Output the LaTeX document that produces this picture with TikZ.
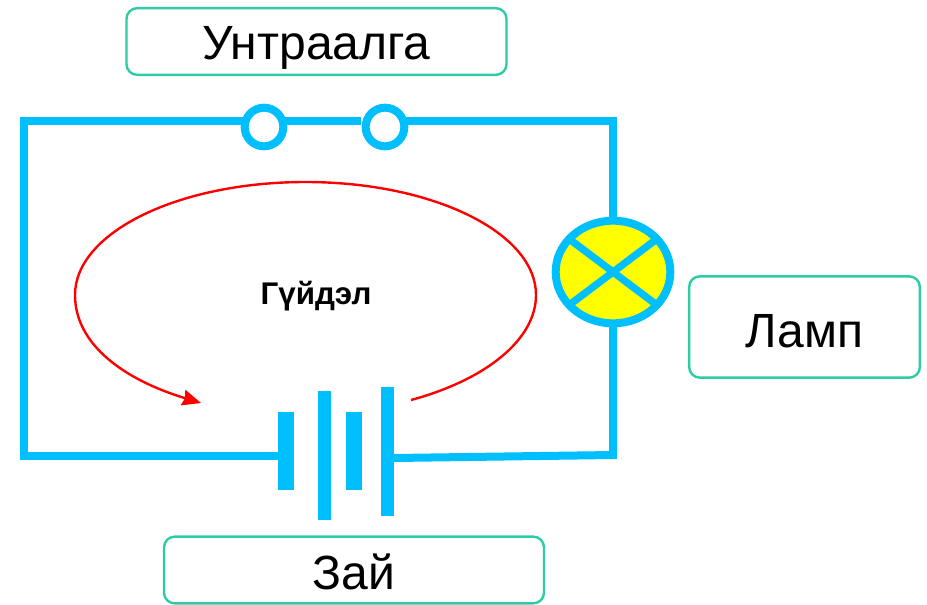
\documentclass[tikz,border=0pt]{standalone}
\usepackage{fontspec}
\setmainfont{Liberation Sans}
\usetikzlibrary{shapes.geometric,arrows.meta}
\definecolor{wirecol}{HTML}{00BFFF}
\definecolor{boxcol}{HTML}{2DCCA5}
\definecolor{lampcol}{HTML}{FFFF00}
\tikzset{
  wire/.style={draw=wirecol,line width=6pt},
  plate/.style={fill=wirecol,inner sep=0pt,outer sep=0pt},
  swnode/.style={circle,draw=wirecol,line width=6pt,fill=white,inner sep=0pt,outer sep=0pt,minimum size=29pt},
  labelbox/.style={draw=boxcol,line width=1.8pt,rounded corners=8pt,fill=white,inner sep=0pt,font=\fontsize{36}{36}\selectfont}
}
\begin{document}
\begin{tikzpicture}[x=0.75pt,y=-0.75pt]
\useasboundingbox (0,0) rectangle (927,604);
\coordinate (tl) at (24,121);
\coordinate (tr) at (613,121);
\coordinate (bl) at (24,456);
\coordinate (br) at (613,455);
\coordinate (batr) at (394,458);
\coordinate (gapr) at (361,121);
\coordinate (curs) at (411,400);
\coordinate (curr) at (536,295);
\coordinate (curt) at (305.5,182);
\coordinate (curl) at (75,295);
\coordinate (cure) at (201,403);
% switch and lamp
\node [swnode] (swa) at (264,127) {};
\node [swnode] (swb) at (385,127) {};
\node [ellipse,draw=wirecol,line width=6pt,fill=lampcol,inner sep=0pt,outer sep=0pt,minimum width=86pt,minimum height=77pt] (lamp) at (613,272) {};
% battery
\node [plate,minimum width=12pt,minimum height=58.5pt] (pla) at (286,451) {};
\node [plate,minimum width=9.5pt,minimum height=97pt] (plb) at (324.5,455.5) {};
\node [plate,minimum width=12pt,minimum height=58.5pt] (plc) at (354,451) {};
\node [plate,minimum width=9.5pt,minimum height=97pt] (pld) at (387.5,451.5) {};
% wires
\draw [wire,line join=miter] (swa.165 |- tl) -- (tl) -- (bl) -- (bl -| pla.west);
\draw [wire] (swa.15 |- tl) -- (gapr);
\draw [wire,line join=miter] (swb.15 |- tl) -- (tr) -- (lamp.north);
\draw [wire,line join=miter] (lamp.south) -- (br) -- (batr);
\draw [wire,line width=5.5pt] (lamp.37) -- (lamp.217);
\draw [wire,line width=5.5pt] (lamp.143) -- (lamp.323);
% current
\draw [red,line width=1.8pt,-{Stealth[length=14pt,width=12pt,inset=1.5pt]}] (curs) .. controls (485,380) and (536,340) .. (curr) .. controls (536,232.6) and (432.8,182) .. (curt) .. controls (178.2,182) and (75,232.6) .. (curl) .. controls (75,345) and (125,380) .. (cure);
\node [font=\bfseries\fontsize{23.5}{23.5}\selectfont] (cur) at (316,296) {Гүйдэл};
% labels
\node [labelbox,minimum width=285pt,minimum height=50pt,text height=35pt,text depth=7.6pt] (swlabel) at (316.5,41.5) {Унтраалга};
\node [labelbox,minimum width=173pt,minimum height=76pt,text height=30.5pt,text depth=0.5pt] (lamplabel) at (804.5,327) {Ламп};
\node [labelbox,minimum width=285pt,minimum height=50pt,text height=29pt,text depth=0.5pt] (batlabel) at (354,570) {Зай};
\end{tikzpicture}
\end{document}
